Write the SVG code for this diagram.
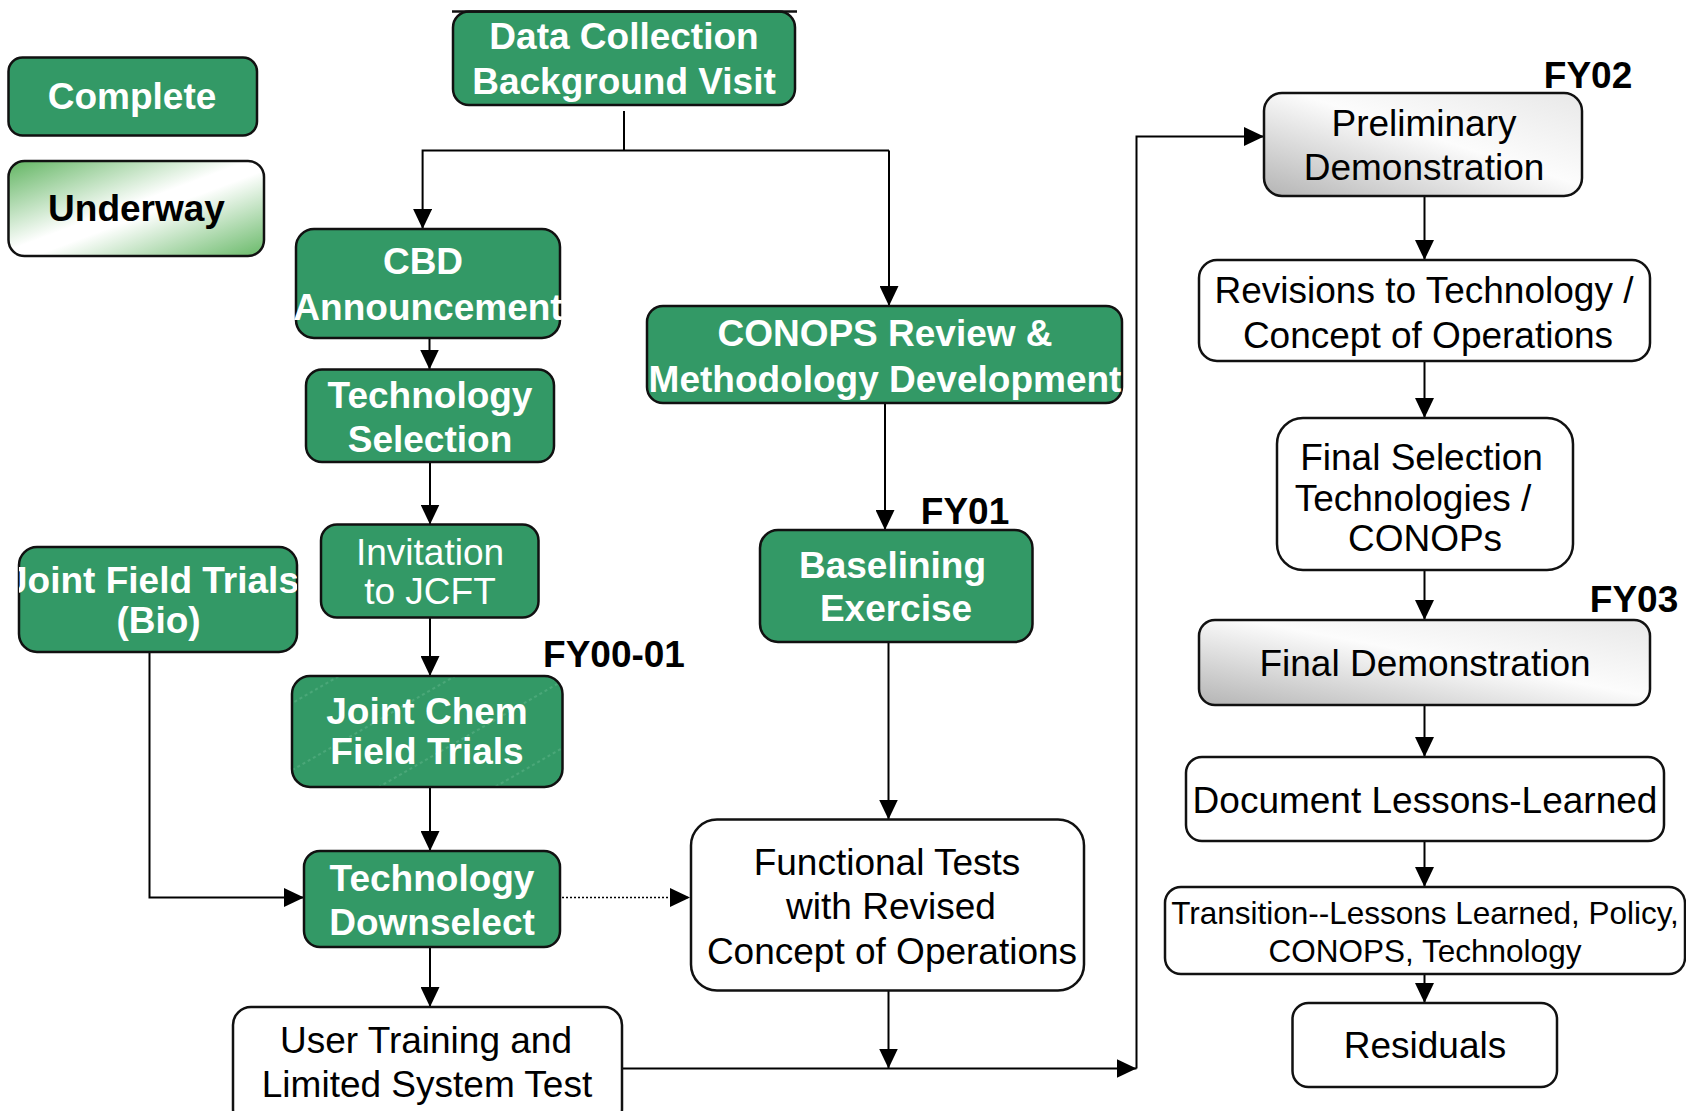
<svg xmlns="http://www.w3.org/2000/svg" width="1686" height="1111" viewBox="0 0 1686 1111">
<style>
  .box { stroke:#111; stroke-width:2.5; }
  .green { fill:#339966; }
  .white { fill:#ffffff; }
  .tw { font-family:"Liberation Sans", Arial, sans-serif; font-size:37px; fill:#ffffff; text-anchor:middle; }
  .tk { font-family:"Liberation Sans", Arial, sans-serif; font-size:37px; fill:#000000; text-anchor:middle; }
  .b { font-weight:bold; }
  .conn path { stroke:#000; stroke-width:2; fill:none; marker-end:url(#arrow); }
  .conn path.plain { marker-end:none; }
  .conn path.dot { stroke-width:1.5; stroke-dasharray:2 2; }
</style>
<defs>
  <marker id="arrow" markerUnits="userSpaceOnUse" markerWidth="20" markerHeight="19" viewBox="0 0 20 19" refX="20" refY="9.5" orient="auto">
    <path d="M0,0 L20,9.5 L0,19 z" fill="#000"/>
  </marker>
  <linearGradient id="gUnder" x1="0" y1="0" x2="1" y2="1">
    <stop offset="0" stop-color="#62b562"/>
    <stop offset="0.47" stop-color="#ffffff"/>
    <stop offset="0.55" stop-color="#ffffff"/>
    <stop offset="1" stop-color="#68b968"/>
  </linearGradient>
  <linearGradient id="gGray" x1="0" y1="1" x2="1" y2="0">
    <stop offset="0" stop-color="#b4b4b4"/>
    <stop offset="0.55" stop-color="#fcfcfc"/>
    <stop offset="1" stop-color="#e8e8e8"/>
  </linearGradient>
  <pattern id="hatch" patternUnits="userSpaceOnUse" width="12" height="58" patternTransform="rotate(-30)">
    <path d="M0 1 H12" stroke="#62b58b" stroke-width="1" stroke-dasharray="3 3"/>
  </pattern>
  <clipPath id="clipBio"><rect x="19" y="547" width="278" height="105" rx="18"/></clipPath>
</defs>
<rect width="1686" height="1111" fill="#ffffff"/>

<g id="connectors" class="conn">
  <path class="plain" d="M624 111 V150.5"/>
  <path d="M889 150.5 H422.6 V229"/>
  <path d="M889 150.5 V306"/>
  <path d="M429.5 338 V369.5"/>
  <path d="M430 462 V524.5"/>
  <path d="M430 617.5 V676"/>
  <path d="M430 787 V851"/>
  <path d="M430 947 V1007"/>
  <path d="M149.5 652 V897.5 H304"/>
  <path class="dot" d="M562 897.5 H690"/>
  <path d="M885 403 V530"/>
  <path d="M888.5 642 V819.5"/>
  <path d="M888.5 991 V1068.5"/>
  <path d="M622 1068.5 H1136.5"/>
  <path d="M1136.5 1068.5 V136.5 H1264"/>
  <path d="M1424.5 196 V260"/>
  <path d="M1424.5 361 V418"/>
  <path d="M1424.5 570 V620"/>
  <path d="M1424.5 705 V757"/>
  <path d="M1424.5 841 V887"/>
  <path d="M1424.5 974 V1003"/>
</g>

<g id="legend-complete">
  <rect class="box green" x="8.5" y="57.5" width="248.5" height="78" rx="14"/>
  <text class="tw b" x="132" y="109">Complete</text>
</g>
<g id="legend-underway">
  <rect class="box" fill="url(#gUnder)" x="8.5" y="161" width="255.5" height="95" rx="16"/>
  <text class="tk b" x="136.5" y="221">Underway</text>
</g>

<g id="data-collection">
  <rect class="box green" x="453" y="11.5" width="342" height="93.5" rx="16"/>
  <line x1="452" y1="11.5" x2="797" y2="11.5" stroke="#111" stroke-width="2.5"/>
  <text class="tw b" x="624" y="48.5">Data Collection</text>
  <text class="tw b" x="624" y="93.5">Background Visit</text>
</g>
<g id="cbd-announcement">
  <rect class="box green" x="296" y="229" width="264" height="109" rx="18"/>
  <text class="tw b" x="423" y="274">CBD</text>
  <text class="tw b" x="428" y="320">Announcement</text>
</g>
<g id="technology-selection">
  <rect class="box green" x="306" y="369.5" width="248" height="92.5" rx="16"/>
  <text class="tw b" x="430" y="407.5">Technology</text>
  <text class="tw b" x="430" y="451.5">Selection</text>
</g>
<g id="invitation-jcft">
  <rect class="box green" x="321" y="524.5" width="217.5" height="93" rx="16"/>
  <text class="tw" x="430" y="564.5">Invitation</text>
  <text class="tw" x="430" y="604">to JCFT</text>
</g>
<g id="joint-field-trials-bio">
  <rect class="box green" x="19" y="547" width="278" height="105" rx="18"/>
  <g clip-path="url(#clipBio)">
    <text class="tw b" x="153" y="592.5">Joint Field Trials</text>
  </g>
  <text class="tw b" x="158.5" y="632.5">(Bio)</text>
</g>
<g id="joint-chem-field-trials">
  <rect class="box green" x="292" y="676" width="270.5" height="111" rx="18"/>
  <rect x="293.5" y="677.5" width="267.5" height="108" rx="17" fill="url(#hatch)"/>
  <text class="tw b" x="427" y="723.5">Joint Chem</text>
  <text class="tw b" x="427" y="763.5">Field Trials</text>
</g>
<g id="technology-downselect">
  <rect class="box green" x="304" y="851" width="256" height="96" rx="16"/>
  <text class="tw b" x="432" y="891">Technology</text>
  <text class="tw b" x="432" y="934.5">Downselect</text>
</g>
<g id="user-training">
  <rect class="box white" x="233" y="1007" width="389" height="120" rx="18"/>
  <text class="tk" x="426" y="1052.5">User Training and</text>
  <text class="tk" x="427" y="1096.5">Limited System Test</text>
</g>
<g id="conops-review">
  <rect class="box green" x="647" y="306" width="475" height="97" rx="16"/>
  <text class="tw b" x="885" y="346">CONOPS Review &amp;</text>
  <text class="tw b" x="885" y="391.5">Methodology Development</text>
</g>
<g id="baselining-exercise">
  <rect class="box green" x="760" y="530" width="272.5" height="112" rx="18"/>
  <text class="tw b" x="892.5" y="578">Baselining</text>
  <text class="tw b" x="896" y="621">Exercise</text>
</g>
<g id="functional-tests">
  <rect class="box white" x="691" y="819.5" width="393" height="171" rx="26"/>
  <text class="tk" x="887" y="875">Functional Tests</text>
  <text class="tk" x="891" y="919">with Revised</text>
  <text class="tk" x="892" y="964">Concept of Operations</text>
</g>
<g id="preliminary-demonstration">
  <rect class="box" fill="url(#gGray)" x="1264" y="93" width="318" height="103" rx="18"/>
  <text class="tk" x="1424" y="136">Preliminary</text>
  <text class="tk" x="1424" y="180">Demonstration</text>
</g>
<g id="revisions">
  <rect class="box white" x="1199" y="260" width="451" height="101" rx="18"/>
  <text class="tk" x="1424" y="302.5">Revisions to Technology /</text>
  <text class="tk" x="1428" y="348">Concept of Operations</text>
</g>
<g id="final-selection">
  <rect class="box white" x="1277" y="418" width="296" height="152" rx="26"/>
  <text class="tk" x="1421.5" y="470">Final Selection</text>
  <text class="tk" x="1413" y="510.5">Technologies /</text>
  <text class="tk" x="1425" y="550.5">CONOPs</text>
</g>
<g id="final-demonstration">
  <rect class="box" fill="url(#gGray)" x="1199" y="620" width="451" height="85" rx="16"/>
  <text class="tk" x="1425" y="676">Final Demonstration</text>
</g>
<g id="document-lessons">
  <rect class="box white" x="1186" y="757" width="478" height="84" rx="16"/>
  <text class="tk" x="1425" y="813">Document Lessons-Learned</text>
</g>
<g id="transition">
  <rect class="box white" x="1165" y="887" width="520" height="87" rx="16"/>
  <text class="tk" x="1425" y="923.5" style="font-size:31.5px">Transition--Lessons Learned, Policy,</text>
  <text class="tk" x="1425" y="961.5" style="font-size:31.5px">CONOPS, Technology</text>
</g>
<g id="residuals">
  <rect class="box white" x="1292.5" y="1003" width="264.5" height="84" rx="16"/>
  <text class="tk" x="1425" y="1058">Residuals</text>
</g>

<g id="fy-labels">
  <text class="tk b" x="1588" y="88">FY02</text>
  <text class="tk b" x="965" y="524">FY01</text>
  <text class="tk b" x="614" y="666.5">FY00-01</text>
  <text class="tk b" x="1634" y="611.5">FY03</text>
</g>
</svg>
